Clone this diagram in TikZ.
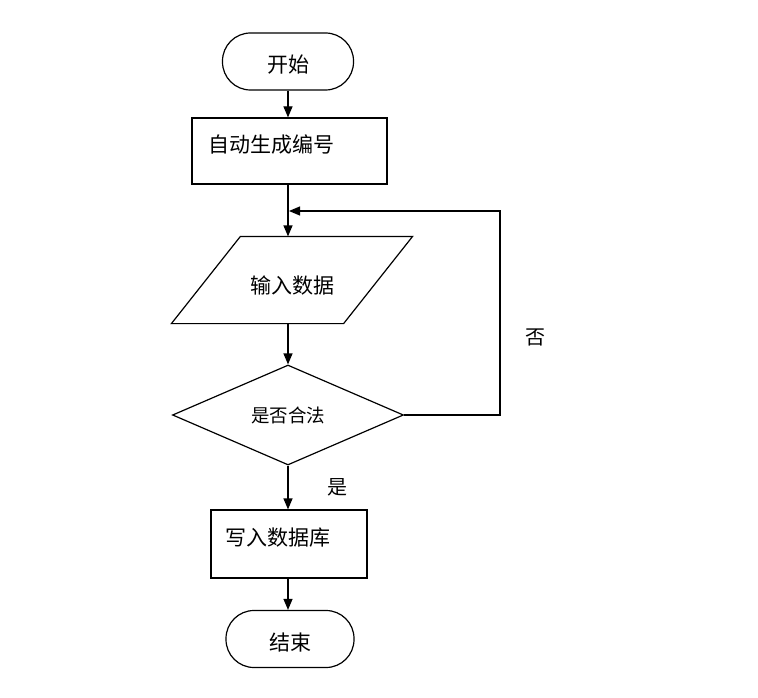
\documentclass[tikz,border=0pt]{standalone}
\usepackage{fontspec}
\setmainfont{Noto Sans CJK SC}
\usetikzlibrary{shapes.geometric,arrows.meta,positioning}
\tikzset{
    terminal/.style={draw, rectangle, rounded corners=28pt, minimum width=#1,
                     minimum height=57pt, inner sep=0pt, text height=24pt, text depth=2pt,
                     font=\fontsize{21pt}{25pt}\selectfont},
    procbox/.style={draw, rectangle, align=left, inner ysep=0pt, text height=35pt,
                    font=\fontsize{21pt}{25pt}\selectfont},
    decision/.style={draw, diamond, minimum width=231pt, minimum height=100pt,
                     inner sep=0pt, font=\fontsize{18.5pt}{22pt}\selectfont},
    flow/.style={-{Triangle[width=9pt,length=11pt]}},
    tag/.style={font=\fontsize{20pt}{24pt}\selectfont},
}
\begin{document}
\begin{tikzpicture}[x=1pt, y=-1pt, line width=1.2pt]
    \useasboundingbox (0,0) rectangle (758,698);
    \node[terminal=131pt] (start) at (288,61.5) {开始};
    \node[procbox, text width=163pt, inner xsep=16pt, text depth=31pt] (gen) at (289.5,151) {自动生成编号};
    \node[minimum width=240pt, minimum height=86pt, inner sep=0pt, text height=28pt, text depth=2pt,
          font=\fontsize{21pt}{25pt}\selectfont] (input) at (292,280) {输入数据};
    \draw (input.south west) -- ([xshift=69pt]input.north west)
          -- (input.north east) -- ([xshift=-69pt]input.south east) -- cycle;
    \node[decision] (check) at (288,415) {是否合法};
    \node[procbox, text width=128pt, inner xsep=14pt, text depth=33pt] (write) at (289,544) {写入数据库};
    \node[terminal=128pt] (stop) at (290,639) {结束};
    \coordinate (join) at (289,211);
    \coordinate (loop) at (500,415);
    % main column
    \draw[flow] (start.south) -- (start.south |- gen.north);
    \draw[flow] (start.south |- gen.south) -- (start.south |- input.north);
    \draw[flow] (start.south |- input.south) -- (check.north);
    \draw[flow] (check.south) -- node[tag, right=36pt] {是} (check.south |- write.north);
    \draw[flow] (check.south |- write.south) -- (check.south |- stop.north);
    % back to input
    \draw[flow] (check.east) -- (loop) -- node[tag, pos=0.38, right=22pt] {否} (loop |- join) -- (join);
\end{tikzpicture}
\end{document}
